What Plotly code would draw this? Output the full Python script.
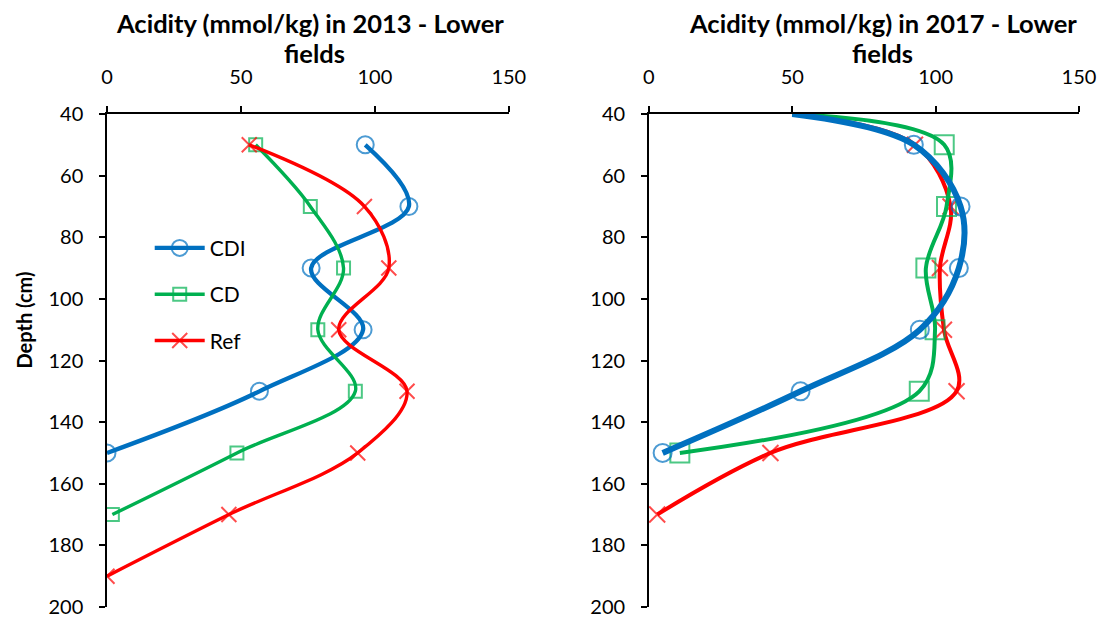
import plotly.graph_objects as go

# ---------------- data ----------------
depth_2013_cdi = [50, 70, 90, 110, 130, 150]
cdi_2013 = [96.4, 112.7, 76.2, 95.6, 56.9, 0]
depth_2013_cd = [50, 70, 90, 110, 130, 150, 170]
cd_2013 = [55.5, 75.9, 88.3, 78.7, 92.7, 48.5, 2.0]
depth_2013_ref = [50, 70, 90, 110, 130, 150, 170, 190]
ref_2013 = [53.1, 96.1, 105.2, 86.5, 112.0, 93.6, 45.5, 0]

depth_2017_cdi = [40, 50, 70, 90, 110, 130, 150]
cdi_2017 = [50, 92.4, 108.7, 108.1, 94.5, 52.9, 4.8]
depth_2017_cd = [40, 50, 70, 90, 110, 130, 150]
cd_2017 = [50, 103.0, 103.8, 96.6, 99.8, 94.3, 10.8]
depth_2017_ref = [40, 50, 70, 90, 110, 130, 150, 170]
ref_2017 = [50, 92.8, 105.2, 101.5, 102.9, 107.3, 42.4, 2.9]

series_names = ["CDI", "CD", "Ref"]
x_ticks = [0, 50, 100, 150]
y_ticks = [40, 60, 80, 100, 120, 140, 160, 180, 200]
title_line1 = ["Acidity (mmol/kg) in 2013 - Lower",
               "Acidity (mmol/kg) in 2017 - Lower"]
title_line2 = "fields"
y_title = "Depth (cm)"

# ---------------- styles ----------------
BLUE, GREEN, RED = "#0070C0", "#00B050", "#FF0000"
FONT = "Lato"
OFF = 8  # page body margin
W, H = 1106 - OFF, 619 - OFF

# plot-area pixel geometry (target window coordinates)
L_X0, L_X1 = 107.3, 509.0
R_X0, R_X1 = 649.0, 1079.0
Y_TOP, Y_BOT = 114.3, 607.0

ml, mr = L_X0 - OFF, W - (R_X1 - OFF)
mt, mb = Y_TOP - OFF, H - (Y_BOT - OFF)
pw = W - ml - mr
ph = H - mt - mb

def px_to_paper_x(px):
    return (px - OFF - ml) / pw

def py_to_paper_y(py):
    return (H - (py - OFF) - mb) / ph

fig = go.Figure()

def add(x, y, name, color, width, symbol, msize, xa, ya, showlegend, first_hidden=False):
    sizes = [msize] * len(x)
    if first_hidden:
        sizes[0] = 0
    fig.add_trace(go.Scatter(
        x=x, y=y, name=name, mode="lines+markers",
        line=dict(color=color, width=width, shape="spline", smoothing=1.0),
        marker=dict(symbol=symbol, size=sizes, color=color,
                    line=dict(color=color, width=2)),
        xaxis=xa, yaxis=ya, showlegend=showlegend, legendgroup=name,
    ))

# left (2013)
add(cdi_2013, depth_2013_cdi, series_names[0], BLUE, 4.3, "circle-open", 17, "x", "y", True)
add(cd_2013, depth_2013_cd, series_names[1], GREEN, 3.4, "square-open", 13, "x", "y", True)
add(ref_2013, depth_2013_ref, series_names[2], RED, 3.4, "x-thin-open", 15, "x", "y", True)

# right (2017)
add(ref_2017, depth_2017_ref, series_names[2], RED, 4, "x-thin-open", 16, "x2", "y2", False, True)
add(cd_2017, depth_2017_cd, series_names[1], GREEN, 4, "square-open", 19, "x2", "y2", False, True)
add(cdi_2017, depth_2017_cdi, series_names[0], BLUE, 6, "circle-open", 18, "x2", "y2", False, True)

axis_common = dict(
    showline=True, linecolor="black", linewidth=1.5, mirror=False,
    ticks="outside", ticklen=6, tickwidth=1.5, tickcolor="black",
    showgrid=False, zeroline=False, automargin=False,
    tickfont=dict(family=FONT, size=20, color="black"),
)

fig.update_layout(
    width=W, height=H,
    paper_bgcolor="white", plot_bgcolor="white",
    margin=dict(l=ml, r=mr, t=mt, b=mb, pad=0),
    font=dict(family=FONT, color="black"),
    xaxis=dict(domain=[0, (L_X1 - L_X0) / pw], range=[0, 150], side="top",
               anchor="y", tickvals=x_ticks, ticklabelstandoff=14, **axis_common),
    yaxis=dict(domain=[0, 1], range=[200, 40], anchor="x",
               tickvals=y_ticks, ticklabelstandoff=12, **axis_common),
    xaxis2=dict(domain=[(R_X0 - L_X0) / pw, 1], range=[0, 150], side="top",
                anchor="y2", tickvals=x_ticks, ticklabelstandoff=14, **axis_common),
    yaxis2=dict(domain=[0, 1], range=[200, 40], anchor="x2",
                tickvals=y_ticks, ticklabelstandoff=12, **axis_common),
    legend=dict(x=px_to_paper_x(150), y=py_to_paper_y(228),
                xanchor="left", yanchor="top",
                bgcolor="rgba(0,0,0,0)", font=dict(family=FONT, size=21),
                tracegroupgap=16, itemwidth=50),
    showlegend=True,
)

annotations = []
for cx, t in zip([(L_X0 + L_X1) / 2 + 2, (R_X0 + R_X1) / 2 + 19], title_line1):
    annotations.append(dict(text="<b>" + t + "</b>", x=px_to_paper_x(cx), y=py_to_paper_y(23),
                            xref="paper", yref="paper", xanchor="center", yanchor="middle",
                            showarrow=False, font=dict(family=FONT, size=25.5)))
for cx in [(L_X0 + L_X1) / 2 + 7, (R_X0 + R_X1) / 2 + 19]:
    annotations.append(dict(text="<b>" + title_line2 + "</b>", x=px_to_paper_x(cx), y=py_to_paper_y(53),
                            xref="paper", yref="paper", xanchor="center", yanchor="middle",
                            showarrow=False, font=dict(family=FONT, size=25.5)))
annotations.append(dict(text="<b>" + y_title + "</b>", x=px_to_paper_x(24), y=py_to_paper_y(320),
                        textangle=-90, xref="paper", yref="paper",
                        xanchor="center", yanchor="middle",
                        showarrow=False, font=dict(family=FONT, size=20)))
fig.update_layout(annotations=annotations)

fig.write_html("out.html")
